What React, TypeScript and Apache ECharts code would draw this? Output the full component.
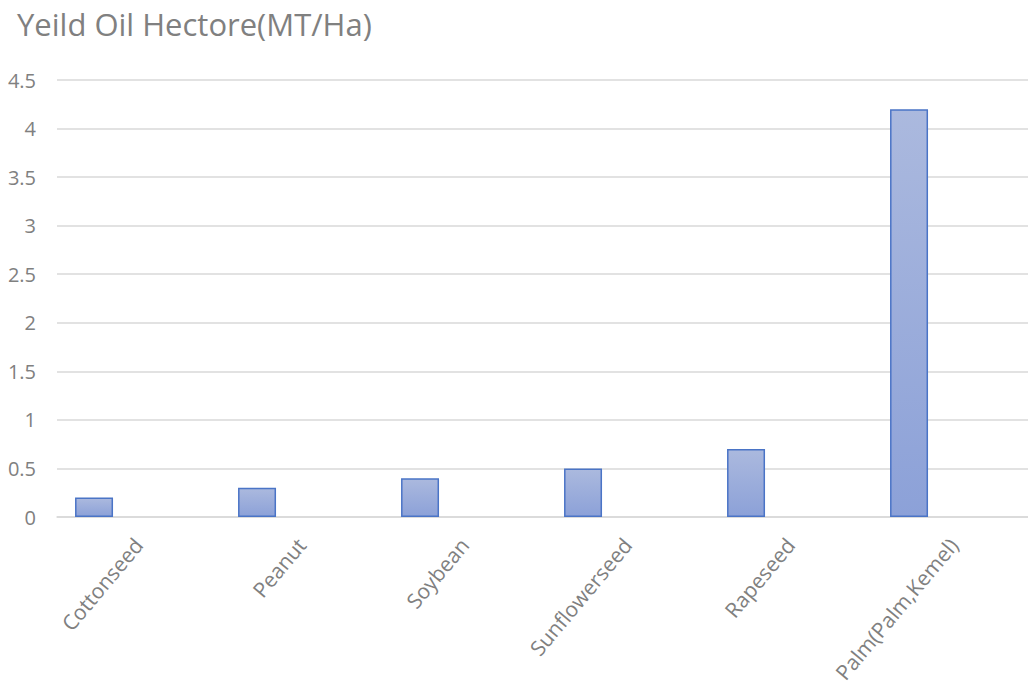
import React, { useEffect, useRef } from "react";
import * as echarts from "echarts";

const titleText = "Yeild Oil Hectore(MT/Ha)";
const crops = ["Cottonseed", "Peanut", "Soybean", "Sunflowerseed", "Rapeseed", "Palm(Palm,Kemel)"];
const yieldValues = [0.2, 0.3, 0.4, 0.5, 0.7, 4.2];
// Second, empty slot per category (keeps the cluster layout of the source workbook)
const emptyValues = [null, null, null, null, null, null];

const FONT = "'Open Sans', 'Noto Sans', sans-serif";
const GREY = "#808080";

export default function App() {
  const ref = useRef<HTMLDivElement>(null);

  useEffect(() => {
    if (!ref.current) return;
    const chart = echarts.init(ref.current, null, { renderer: "svg" });
    chart.setOption({
      animation: false,
      backgroundColor: "#ffffff",
      title: {
        text: titleText,
        left: 12,
        top: 3,
        textStyle: { fontFamily: FONT, fontSize: 31, fontWeight: "normal", color: GREY },
      },
      // the plot runs a little past the visible right edge
      grid: { left: 57, right: 5, top: 80, bottom: 176, containLabel: false },
      xAxis: {
        type: "category",
        data: crops,
        axisLine: { show: true, lineStyle: { color: "#d9d9d9", width: 1.5 } },
        axisTick: { show: false },
        axisLabel: {
          rotate: 50,
          interval: 0,
          margin: 24,
          fontFamily: FONT,
          fontSize: 21,
          color: GREY,
        },
      },
      yAxis: {
        type: "value",
        min: 0,
        max: 4.5,
        interval: 0.5,
        axisLine: { show: false },
        axisTick: { show: false },
        splitLine: { lineStyle: { color: "#d9d9d9", width: 1.5 } },
        axisLabel: { margin: 21, fontFamily: FONT, fontSize: 20, color: GREY },
      },
      series: [
        {
          type: "bar",
          data: yieldValues,
          barWidth: 38,
          barGap: "134%",
          itemStyle: {
            color: new echarts.graphic.LinearGradient(0, 0, 0, 1, [
              { offset: 0, color: "#abb9de" },
              { offset: 1, color: "#8ca1d8" },
            ]),
            borderColor: "#4a74c6",
            borderWidth: 1.5,
          },
        },
        {
          type: "bar",
          data: emptyValues,
          barWidth: 38,
        },
      ],
    });
    return () => chart.dispose();
  }, []);

  return (
    <div
      style={{ position: "absolute", left: 0, top: 0, width: 1028, height: 693, overflow: "hidden", background: "#fff" }}
    >
      <div ref={ref} style={{ width: 1040, height: 693 }} />
    </div>
  );
}
